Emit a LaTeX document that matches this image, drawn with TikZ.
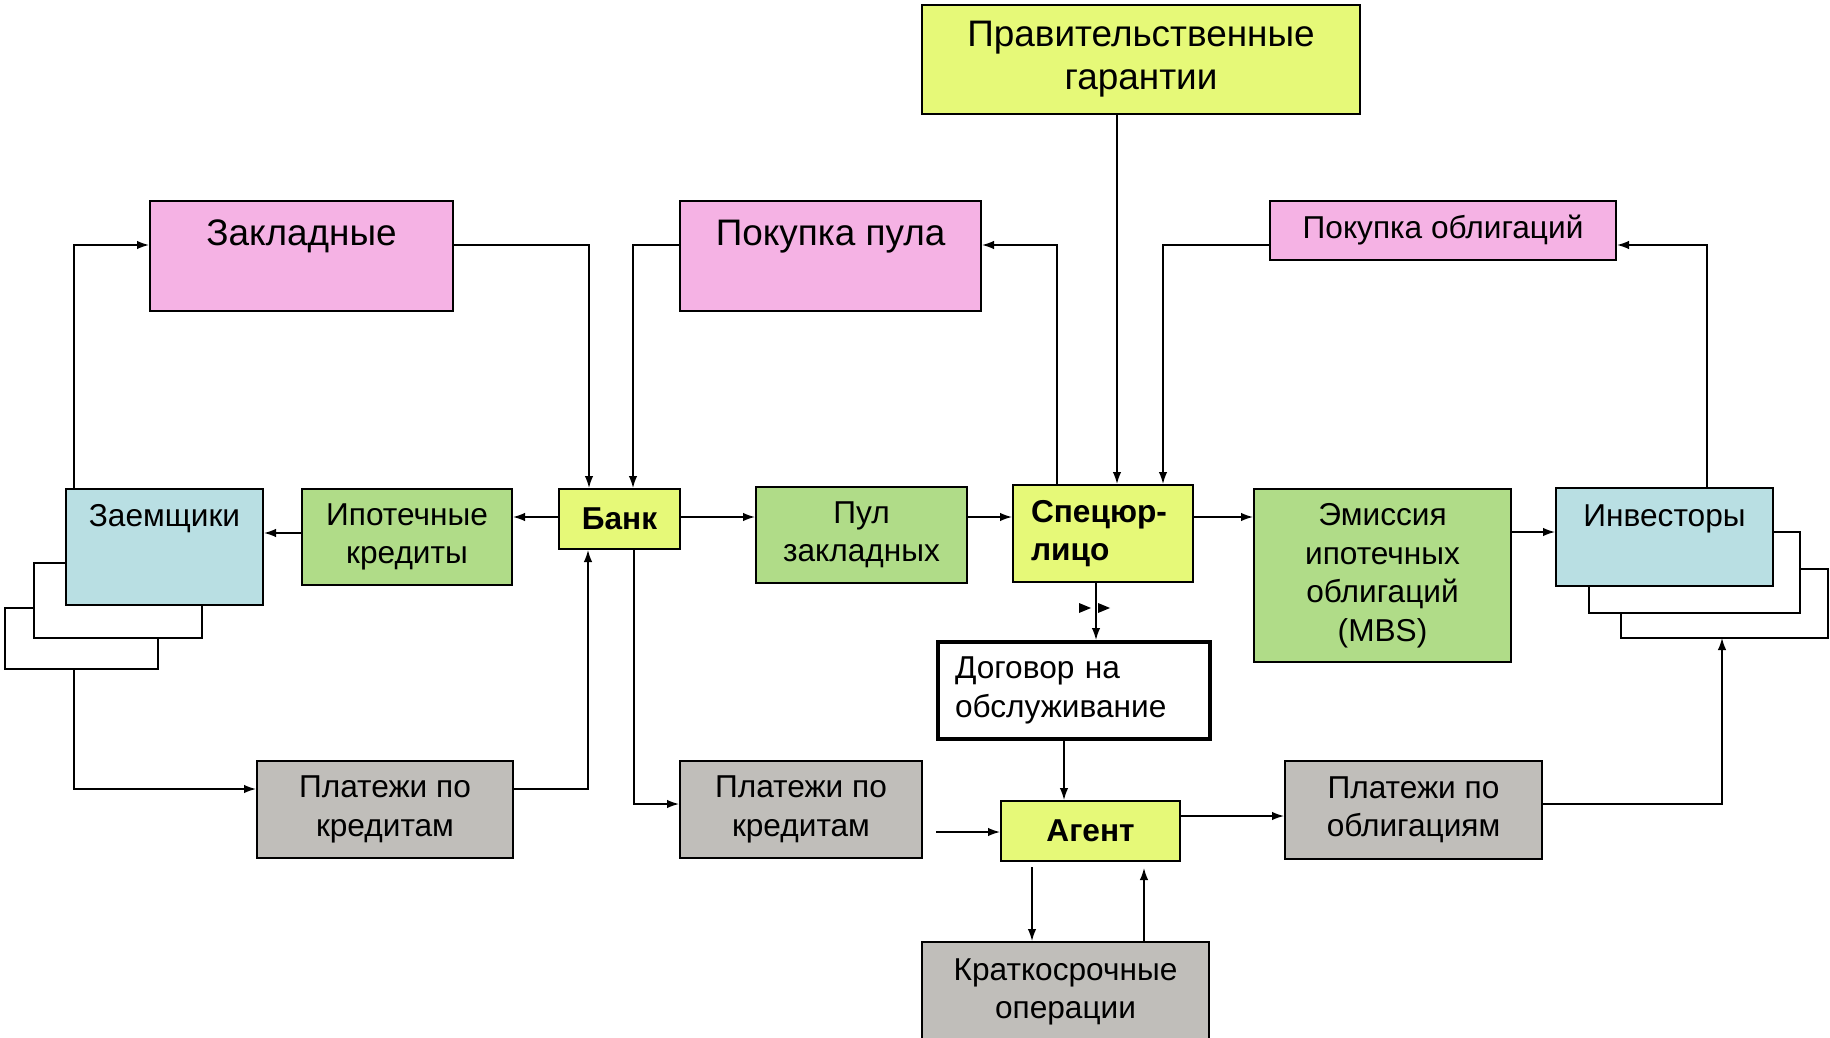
\documentclass[tikz,border=0pt]{standalone}
\usepackage{fontspec}
\setmainfont{Liberation Sans}
\usetikzlibrary{arrows.meta,calc}

\definecolor{yelbox}{HTML}{E6F978}
\definecolor{pinkbox}{HTML}{F5B2E4}
\definecolor{greenbox}{HTML}{B0DC88}
\definecolor{bluebox}{HTML}{B9DFE3}
\definecolor{greybox}{HTML}{C0BEBA}

\tikzset{
  box/.style={draw, line width=0.4mm, anchor=north west, align=center, inner sep=0pt,
    font=\fontsize{18}{21.9}\selectfont},
  bigbox/.style={box, font=\fontsize{21}{24.6}\selectfont},
  arr/.style={-{Latex[length=2.4mm,width=1.7mm]}, line width=0.3mm},
  stackline/.style={line width=0.3mm}
}

\begin{document}
\begin{tikzpicture}[x=0.2mm, y=-0.2mm]
    \useasboundingbox (0,0) rectangle (1830,1038);
    % top row
    \node[bigbox, fill=yelbox, minimum width=87.6mm, minimum height=21.8mm] (prav) at (921,4) {Правительственные\\гарантии};
    \node[bigbox, fill=pinkbox, minimum width=60.6mm, text height=8.8mm, text depth=13.2mm] (zakl) at (149,200) {Закладные};
    \node[bigbox, fill=pinkbox, minimum width=60.2mm, text height=8.8mm, text depth=13.2mm] (pokpul) at (679,200) {Покупка пула};
    \node[box, fill=pinkbox, minimum width=69.2mm, minimum height=11.8mm] (pokobl) at (1269,200) {Покупка облигаций};
    % middle row
    \node[box, fill=bluebox, minimum width=39.4mm, text height=7.4mm, text depth=15.8mm] (zaem) at (65,488) {Заемщики};
    \node[box, fill=greenbox, minimum width=42mm, minimum height=19.2mm] (ipot) at (301,488) {Ипотечные\\кредиты};
    \node[box, fill=yelbox, minimum width=24.2mm, minimum height=12mm, font=\fontsize{18}{21.9}\selectfont\bfseries] (bank) at (558,488) {Банк};
    \node[box, fill=greenbox, minimum width=42.2mm, minimum height=19.2mm] (pul) at (755,486) {Пул\\закладных};
    \node[box, fill=yelbox, align=left, inner xsep=3.6mm, text width=28.8mm, minimum height=19.4mm, font=\fontsize{18}{21.9}\selectfont\bfseries] (spec) at (1012,484) {Спецюр-\\лицо};
    \node[box, fill=greenbox, minimum width=51.4mm, minimum height=34.6mm] (emis) at (1253,488) {Эмиссия\\ипотечных\\облигаций\\(MBS)};
    \node[box, fill=bluebox, minimum width=43.4mm, text height=7.6mm, text depth=12mm] (invest) at (1555,487) {Инвесторы};
    % lower rows
    \node[box, fill=white, line width=0.8mm, align=left, inner xsep=3.4mm, text width=47.6mm, minimum height=19.4mm] (dogovor) at (936,640) {Договор на\\обслуживание};
    \node[box, fill=greybox, minimum width=51.2mm, minimum height=19.4mm] (plat1) at (256,760) {Платежи по\\кредитам};
    \node[box, fill=greybox, minimum width=48.4mm, minimum height=19.4mm] (plat2) at (679,760) {Платежи по\\кредитам};
    \node[box, fill=yelbox, minimum width=35.8mm, minimum height=12mm, font=\fontsize{18}{21.9}\selectfont\bfseries] (agent) at (1000,800) {Агент};
    \node[box, fill=greybox, minimum width=51.4mm, minimum height=19.6mm] (platobl) at (1284,760) {Платежи по\\облигациям};
    \node[box, fill=greybox, minimum width=57.4mm, minimum height=20mm] (krat) at (921,941) {Краткосрочные\\операции};

    % stacked outlines behind Заемщики and Инвесторы
    \draw[stackline] (65,563) -- (34,563) -- (34,638) -- (202,638) -- (202,604);
    \draw[stackline] (34,608) -- (5,608) -- (5,669) -- (158,669) -- (158,638);
    \draw[stackline] (1772,532) -- (1800,532) -- (1800,613) -- (1589,613) -- (1589,585);
    \draw[stackline] (1800,569) -- (1828,569) -- (1828,638) -- (1621,638) -- (1621,613);
    \coordinate (zbase) at (74,669);
    \coordinate (invbase) at (1722,638);
    \coordinate (agin) at (936,832);

    % connectors
    \draw[arr] ($(zaem.north west)+(9,0)$) |- ($(zakl.north west)+(0,45)$);
    \draw[arr] ($(zakl.north east)+(0,45)$) -| ($(bank.north west)+(31,0)$);
    \draw[arr] ($(pokpul.north west)+(0,45)$) -| ($(bank.north west)+(75,0)$);
    \draw[arr] ($(spec.north west)+(45,0)$) |- ($(pokpul.north east)+(0,45)$);
    \draw[arr] ($(prav.south west)+(196,0)$) -- ($(spec.north west)+(105,0)$);
    \draw[arr] ($(pokobl.north west)+(0,45)$) -| ($(spec.north west)+(151,0)$);
    \draw[arr] ($(invest.north west)+(152,0)$) |- ($(pokobl.north east)+(0,45)$);
    \draw[arr] ($(bank.north west)+(0,29)$) -- ($(ipot.north east)+(0,29)$);
    \draw[arr] ($(ipot.north west)+(0,45)$) -- ($(zaem.north east)+(0,45)$);
    \draw[arr] ($(bank.north east)+(0,29)$) -- ($(pul.north west)+(0,31)$);
    \draw[arr] ($(pul.north east)+(0,31)$) -- ($(spec.north west)+(0,33)$);
    \draw[arr] ($(spec.north east)+(0,33)$) -- ($(emis.north west)+(0,29)$);
    \draw[arr] ($(emis.north east)+(0,44)$) -- ($(invest.north west)+(0,45)$);
    \draw[arr] ($(spec.south west)+(84,0)$) -- ($(dogovor.north west)+(160,0)$);
    \fill (1079,603) -- (1091,608) -- (1079,613) -- cycle;
    \fill (1098,603) -- (1110,608) -- (1098,613) -- cycle;
    \draw[arr] ($(dogovor.south west)+(128,0)$) -- ($(agent.north west)+(64,0)$);
    \draw[arr] (zbase) |- ($(plat1.north west)+(0,29)$);
    \draw[arr] ($(plat1.north east)+(0,29)$) -| ($(bank.south west)+(30,0)$);
    \draw[arr] ($(bank.south west)+(76,0)$) |- ($(plat2.north west)+(0,44)$);
    \draw[arr] (agin) -- ($(agent.north west)+(0,32)$);
    \draw[arr] ($(agent.north east)+(0,16)$) -- ($(platobl.north west)+(0,56)$);
    \draw[arr] ($(platobl.north east)+(0,44)$) -| (invbase);
    \draw[arr] ($(agent.south west)+(32,5)$) -- ($(krat.north west)+(111,0)$);
    \draw[arr] ($(krat.north west)+(223,0)$) -- ($(agent.south west)+(144,6)$);
\end{tikzpicture}
\end{document}
